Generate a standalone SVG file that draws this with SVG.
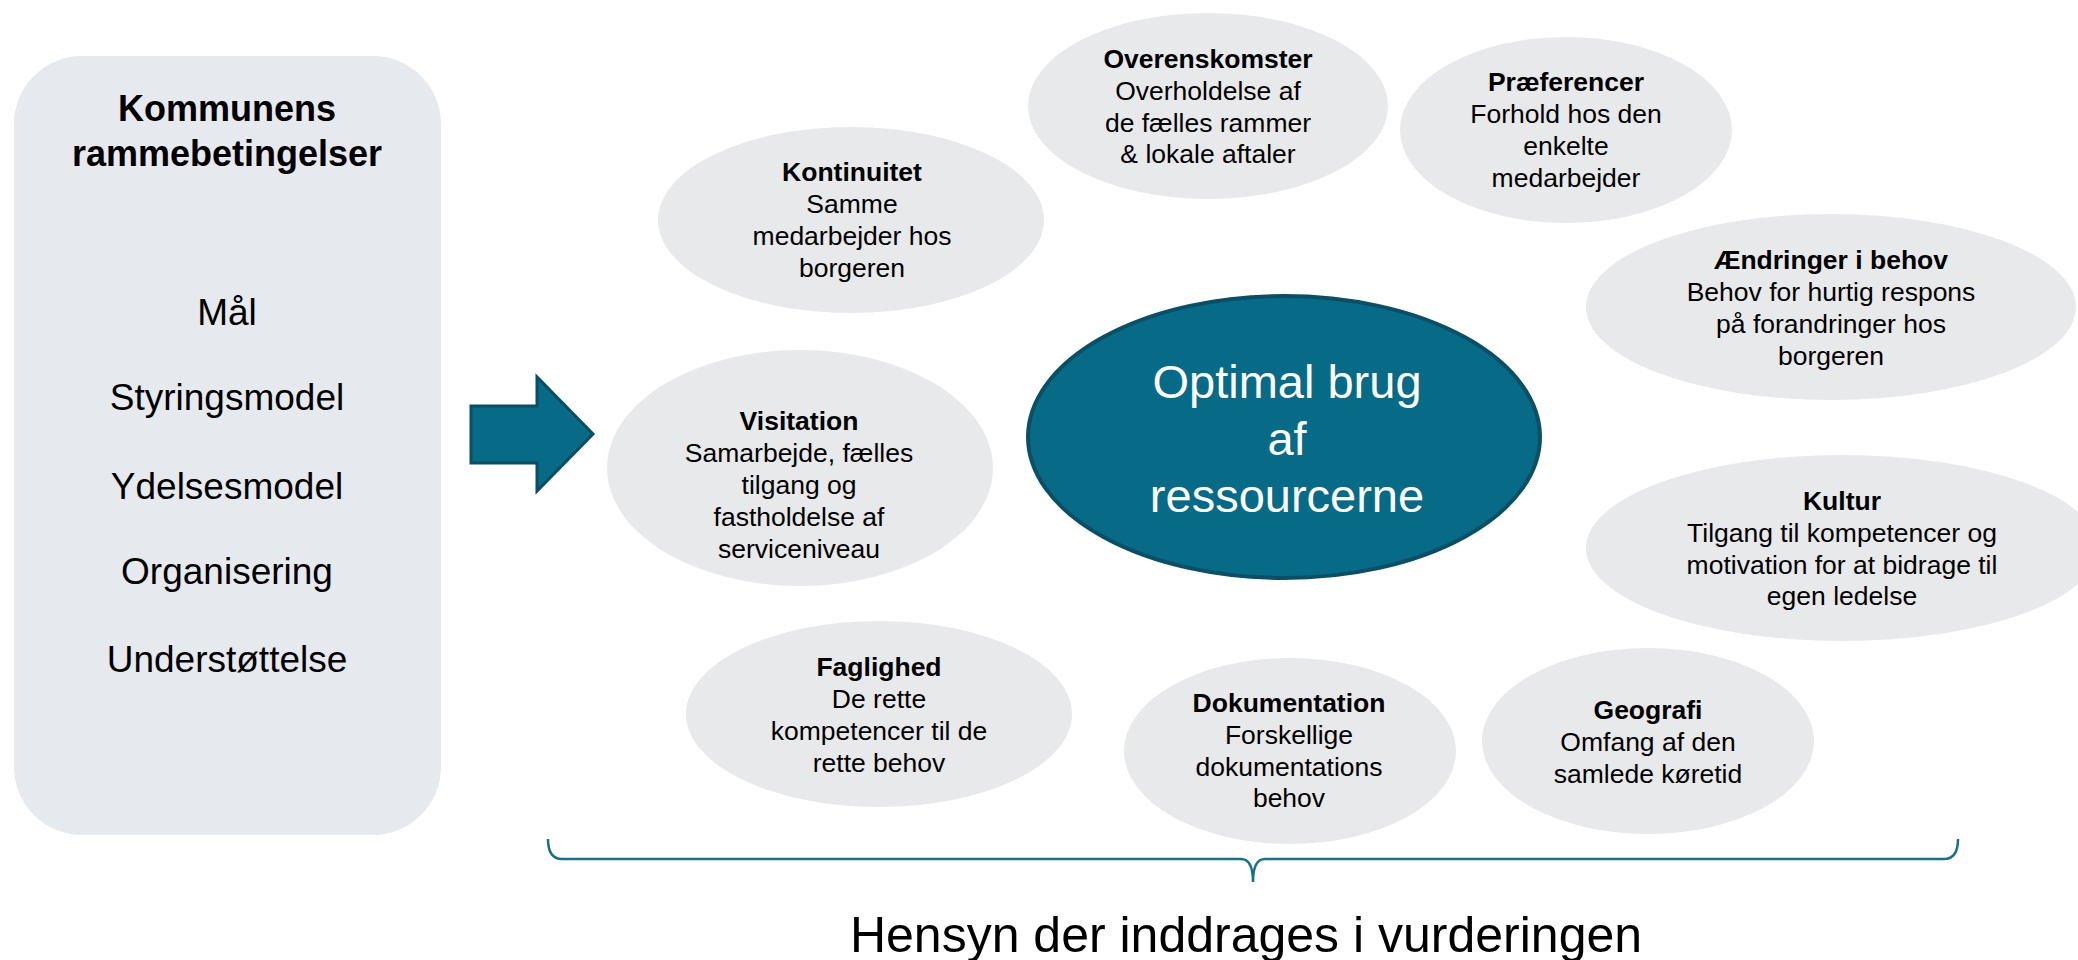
<svg xmlns="http://www.w3.org/2000/svg" width="2078" height="960" viewBox="0 0 2078 960">
<style>
text{font-family:"Liberation Sans",Arial,sans-serif;text-anchor:middle;fill:#000}
.n{font-size:26.5px}
.b{font-weight:bold}
.g{fill:#e8e9eb}
.side{font-size:37px}
.title{font-size:36px;font-weight:bold}
.center{font-size:47px;fill:#fff}
</style>
<rect width="2078" height="960" fill="#fff"/>
<g id="rammebetingelser">
<rect x="14" y="56" width="427" height="779" rx="68" ry="68" fill="#e6e9ee"/>
<text class="title" x="227" y="121">Kommunens</text>
<text class="title" x="227" y="166">rammebetingelser</text>
<text class="side" x="227" y="325">Mål</text>
<text class="side" x="227" y="410">Styringsmodel</text>
<text class="side" x="227" y="499">Ydelsesmodel</text>
<text class="side" x="227" y="584">Organisering</text>
<text class="side" x="227" y="672">Understøttelse</text>
</g>
<g id="connectors">
<polygon points="471,406 537,406 537,377 593,434 537,491 537,463 471,463" fill="#076a87" stroke="#0b4d63" stroke-width="3" stroke-linejoin="miter"/>
<path d="M548,839 Q548,859 562,859 L1241,859 Q1253,859 1253,882 Q1253,859 1265,859 L1944,859 Q1958,859 1958,839" fill="none" stroke="#1b6f8c" stroke-width="2.5"/>
</g>
<g id="kontinuitet">
<ellipse class="g" cx="851" cy="220" rx="193" ry="93"/>
<text class="n b" x="852" y="181">Kontinuitet</text>
<text class="n" x="852" y="213">Samme</text>
<text class="n" x="852" y="245">medarbejder hos</text>
<text class="n" x="852" y="277">borgeren</text>
</g>
<g id="overenskomster">
<ellipse class="g" cx="1208" cy="106" rx="180" ry="93"/>
<text class="n b" x="1208" y="68">Overenskomster</text>
<text class="n" x="1208" y="100">Overholdelse af</text>
<text class="n" x="1208" y="132">de fælles rammer</text>
<text class="n" x="1208" y="163">&amp; lokale aftaler</text>
</g>
<g id="praeferencer">
<ellipse class="g" cx="1566" cy="130" rx="166" ry="93"/>
<text class="n b" x="1566" y="91">Præferencer</text>
<text class="n" x="1566" y="123">Forhold hos den</text>
<text class="n" x="1566" y="155">enkelte</text>
<text class="n" x="1566" y="187">medarbejder</text>
</g>
<g id="aendringer">
<ellipse class="g" cx="1831" cy="307" rx="245" ry="93"/>
<text class="n b" x="1831" y="269">Ændringer i behov</text>
<text class="n" x="1831" y="301">Behov for hurtig respons</text>
<text class="n" x="1831" y="333">på forandringer hos</text>
<text class="n" x="1831" y="365">borgeren</text>
</g>
<g id="visitation">
<ellipse class="g" cx="800" cy="468" rx="193" ry="118"/>
<text class="n b" x="799" y="430">Visitation</text>
<text class="n" x="799" y="462">Samarbejde, fælles</text>
<text class="n" x="799" y="494">tilgang og</text>
<text class="n" x="799" y="526">fastholdelse af</text>
<text class="n" x="799" y="558">serviceniveau</text>
</g>
<g id="optimal">
<ellipse cx="1284" cy="437" rx="256" ry="141" fill="#076a87" stroke="#0a4f66" stroke-width="4"/>
<text class="center" x="1287" y="398">Optimal brug</text>
<text class="center" x="1287" y="455">af</text>
<text class="center" x="1287" y="512">ressourcerne</text>
</g>
<g id="kultur">
<ellipse class="g" cx="1842" cy="548" rx="256" ry="93"/>
<text class="n b" x="1842" y="510">Kultur</text>
<text class="n" x="1842" y="542">Tilgang til kompetencer og</text>
<text class="n" x="1842" y="574">motivation for at bidrage til</text>
<text class="n" x="1842" y="605">egen ledelse</text>
</g>
<g id="faglighed">
<ellipse class="g" cx="879" cy="714" rx="193" ry="93"/>
<text class="n b" x="879" y="676">Faglighed</text>
<text class="n" x="879" y="708">De rette</text>
<text class="n" x="879" y="740">kompetencer til de</text>
<text class="n" x="879" y="772">rette behov</text>
</g>
<g id="dokumentation">
<ellipse class="g" cx="1290" cy="751" rx="166" ry="93"/>
<text class="n b" x="1289" y="712">Dokumentation</text>
<text class="n" x="1289" y="744">Forskellige</text>
<text class="n" x="1289" y="776">dokumentations</text>
<text class="n" x="1289" y="807">behov</text>
</g>
<g id="geografi">
<ellipse class="g" cx="1648" cy="741" rx="166" ry="93"/>
<text class="n b" x="1648" y="719">Geografi</text>
<text class="n" x="1648" y="751">Omfang af den</text>
<text class="n" x="1648" y="783">samlede køretid</text>
</g>
<g id="hensyn">
<text x="1246" y="952" style="font-size:50px">Hensyn der inddrages i vurderingen</text>
</g>
</svg>
